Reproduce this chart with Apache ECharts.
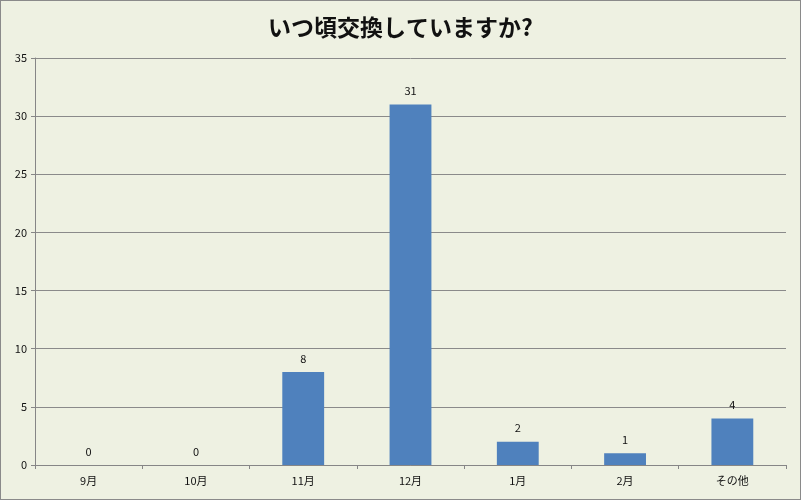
<!DOCTYPE html>
<html>
<head>
<meta charset="utf-8">
<script src="https://cdn.jsdelivr.net/npm/echarts@6/dist/echarts.min.js"></script>
<style>
html, body { margin: 0; padding: 0; background: #eef1e2; }
#chart { width: 799px; height: 498px; border: 1px solid #8a8a8a; }
</style>
</head>
<body>
<div id="chart"></div>
<script>
// いつ頃交換していますか?
var titleText = 'いつ頃交換していますか?';
var months = ['9月', '10月', '11月', '12月', '1月', '2月', 'その他'];
var counts = [0, 0, 8, 31, 2, 1, 4];
var yTicks = { min: 0, max: 35, interval: 5 };

var font = '"Noto Sans CJK JP", "DejaVu Sans", sans-serif';

var myChart = echarts.init(document.getElementById('chart'));
var option = {
    backgroundColor: '#eef1e2',
    title: {
        text: titleText,
        left: 'center',
        top: 10,
        textStyle: {
            fontFamily: font,
            fontSize: 23,
            fontWeight: 'bold',
            color: '#111'
        }
    },
    grid: {
        left: 34,
        right: 14,
        top: 57,
        bottom: 34
    },
    xAxis: {
        type: 'category',
        data: months,
        axisLine: { lineStyle: { color: '#868686', width: 1 } },
        axisTick: { show: true, length: 4, alignWithLabel: false, lineStyle: { color: '#868686' } },
        axisLabel: { fontFamily: font, fontSize: 11, color: '#111', margin: 10 }
    },
    yAxis: {
        type: 'value',
        min: yTicks.min,
        max: yTicks.max,
        interval: yTicks.interval,
        axisLine: { show: true, lineStyle: { color: '#868686', width: 1 } },
        axisTick: { show: true, length: 4, lineStyle: { color: '#868686' } },
        axisLabel: { fontFamily: font, fontSize: 11, color: '#111', margin: 8 },
        splitLine: { lineStyle: { color: '#8a8a8a', width: 1 } }
    },
    series: [{
        type: 'bar',
        data: counts,
        barWidth: '39%',
        itemStyle: { color: '#4f81bd' },
        label: {
            show: true,
            position: 'top',
            distance: 8,
            fontFamily: font,
            fontSize: 11,
            color: '#111'
        }
    }]
};
myChart.setOption(option);
</script>
</body>
</html>
